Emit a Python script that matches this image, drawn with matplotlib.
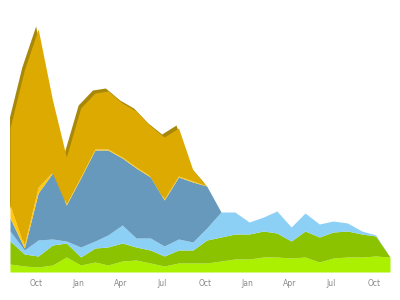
import matplotlib
matplotlib.use('Agg')
import matplotlib.pyplot as plt
import matplotlib.dates as mdates
import matplotlib.transforms as mtransforms
import numpy as np
import pandas as pd

# monthly points, Aug 2010 .. Nov 2012
dates = pd.date_range('2010-08-01', periods=28, freq='MS') + pd.Timedelta(days=4)

lime = [8, 6, 5, 7, 15, 7, 10, 7, 11, 12, 9, 6, 9, 9, 9, 11, 13, 13, 15, 15, 14, 15, 10, 14, 15, 15, 16, 15]
green = [23, 12, 11, 20, 14, 8, 14, 18, 18, 13, 13, 10, 13, 13, 23, 24, 25, 25, 26, 24, 17, 26, 25, 26, 26, 23, 20, 0]
light_blue = [10, 4, 16, 6, 2, 10, 7, 12, 18, 9, 12, 10, 11, 8, 12, 25, 22, 12, 14, 22, 14, 18, 13, 11, 8, 3, 1, 0]
steel_blue = [13, 2, 47, 66, 36, 69, 91, 85, 67, 70, 61, 46, 62, 60, 42, 0, 0, 0, 0, 0, 0, 0, 0, 0, 0, 0, 0, 0]
yellow = [15, 3, 6, 1, 1, 1, 1, 1, 1, 1, 1, 1, 1, 1, 0, 0, 0, 0, 0, 0, 0, 0, 0, 0, 0, 0, 0, 0]
gold = [75, 175, 158, 72, 47, 69, 56, 58, 54, 56, 50, 62, 48, 11, 0, 0, 0, 0, 0, 0, 0, 0, 0, 0, 0, 0, 0, 0]

series = [lime, green, light_blue, steel_blue, yellow, gold]
colors = ['#aaf000', '#8cc300', '#8cd0f5', '#6699bb', '#ffc814', '#dcaa00']

fig = plt.figure(figsize=(4, 3), dpi=100)
ax = fig.add_axes([0.025, 0.0933, 0.95, 0.84])

stack = np.cumsum(np.array(series, dtype=float), axis=0)
bottoms = np.vstack([np.zeros(len(dates)), stack[:-1]])

# darker back face of the top series, shifted up-left for the 3d look
shift = mtransforms.ScaledTranslation(-2.5 / 100, 3 / 100, fig.dpi_scale_trans)
ax.fill_between(dates, bottoms[5], stack[5], color='#a8880a', lw=0,
                transform=ax.transData + shift, zorder=1)

for i in range(len(series)):
    ax.fill_between(dates, bottoms[i], stack[i], color=colors[i], lw=0, zorder=2)

ax.set_xlim(dates[0], dates[-1])
ax.set_ylim(0, 252)
ax.xaxis.set_major_locator(mdates.MonthLocator(bymonth=[1, 4, 7, 10]))
ax.xaxis.set_major_formatter(mdates.DateFormatter('%b'))
ax.tick_params(axis='x', length=0, labelsize=5.5, labelcolor='#888888', pad=5)
ax.set_yticks([])
for s in ax.spines.values():
    s.set_visible(False)

fig.savefig('out.png', dpi=100)
